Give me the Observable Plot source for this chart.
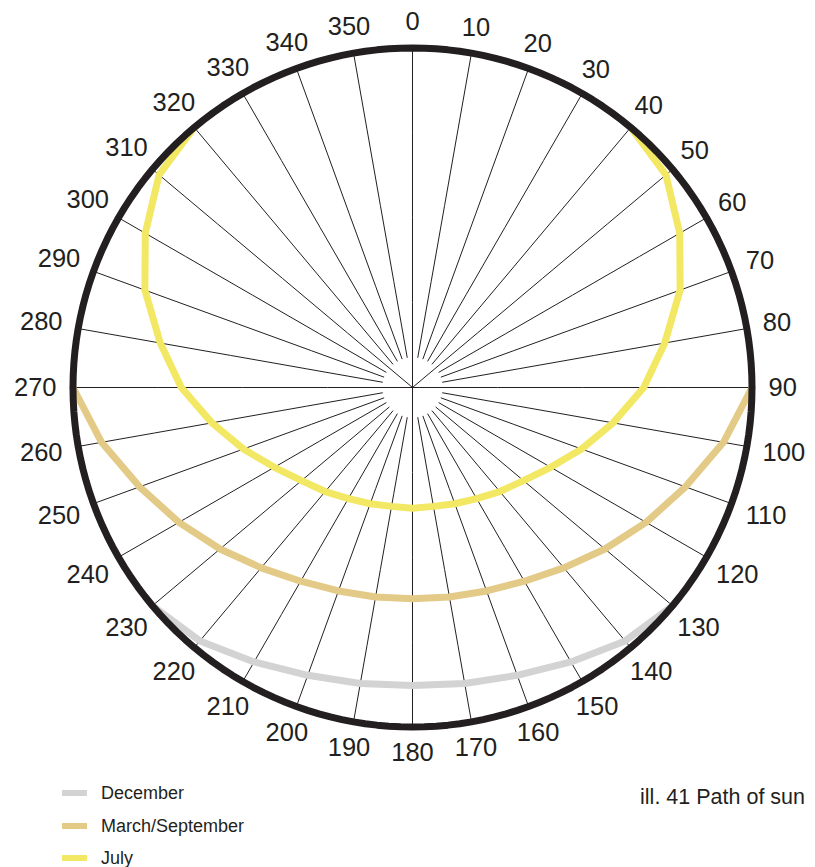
<!DOCTYPE html>
<html>
<head>
<meta charset="utf-8">
<script src="https://cdn.jsdelivr.net/npm/d3@7"></script>
<script src="https://cdn.jsdelivr.net/npm/@observablehq/plot@0.6"></script>
<style>
  html, body { margin: 0; padding: 0; background: #fff; }
  #wrap { position: relative; width: 815px; height: 867px; font-family: "Liberation Sans", Arial, sans-serif; color: #231f20; }
  #chart { position: absolute; left: 0; top: 0; }
  .row { position: absolute; left: 62px; height: 20px; display: flex; align-items: center; font-size: 18px; }
  .sw { width: 25px; height: 6px; margin-right: 14px; }
  #caption { position: absolute; right: 10px; top: 785px; font-size: 21.5px; }
</style>
</head>
<body>
<div id="wrap">
  <div id="chart"></div>
  <div id="legend"></div>
  <div id="caption">ill. 41 Path of sun</div>
</div>
<script>
// Compass tick labels (degrees of azimuth, 0 = north, clockwise)
const azimuthTicks = [0,10,20,30,40,50,60,70,80,90,100,110,120,130,140,150,160,170,180,
                      190,200,210,220,230,240,250,260,270,280,290,300,310,320,330,340,350];
// Spokes drawn all the way to the centre
const fullSpokes = [0, 50, 90, 180, 270, 310];

// Sun path: azimuth (deg) and altitude (deg)
const julyAzimuth  = [40,50,60,70,80,90,100,110,120,130,140,150,160,170,180,190,200,210,220,230,240,250,260,270,280,290,300,310,320];
const julyAltitude = [0,2.3,8.2,14.5,22.1,28.7,36,42.3,47.7,51.6,54,56,57.2,58,58,58,57.2,56,54,51.6,47.7,42.3,36,28.7,22.1,14.5,8.2,2.3,0];

const equinoxAzimuth  = [90,100,110,120,130,140,150,160,170,180,190,200,210,220,230,240,250,260,270];
const equinoxAltitude = [0,6.3,13,18.5,23.4,27.6,30.7,32.6,33.6,34,33.6,32.6,30.7,27.6,23.4,18.5,13,6.3,0];

const decemberAzimuth  = [130,140,150,160,170,180,190,200,210,220,230];
const decemberAltitude = [0,2.3,6,8.8,10.3,11,10.3,8.8,6,2.3,0];

const seriesNames  = ["December", "March/September", "July"];
const seriesColors = ["#d3d3d3", "#e3ca87", "#f2e864"];

const toRows = (az, alt) => az.map((a, i) => ({az: a, alt: alt[i]}));
const paths = [
  toRows(decemberAzimuth, decemberAltitude),
  toRows(equinoxAzimuth, equinoxAltitude),
  toRows(julyAzimuth, julyAltitude)
];

const lon = az => 180 - az;   // azimuth -> longitude on a north-pole azimuthal projection
const ink = "#231f20";
const horizon = d3.geoCircle().center([0, 90]).radius(90)();

const spokes = azimuthTicks.map(a => ({az: a, inner: fullSpokes.includes(a) ? 90 : 82}));

// label layout: keep each label's box just outside the ring
const labelSize = 25.5;
const pxPerDeg = 339.5 / 90;
const labelLat = d => {
  const w = String(d).length * 0.556 * labelSize;
  const h = 0.72 * labelSize;
  const a = d * Math.PI / 180;
  const r = 356 + Math.hypot(Math.sin(a) * w / 2, Math.cos(a) * h / 2);
  return 90 - r / pxPerDeg;
};

const chart = Plot.plot({
  width: 815,
  height: 772,
  marginTop: 47.5,
  marginLeft: 72.5,
  marginRight: 63.5,
  marginBottom: 45.5,
  style: {fontFamily: "'Liberation Sans', Arial, sans-serif", background: "#fff", overflow: "visible"},
  projection: {type: "azimuthal-equidistant", rotate: [0, -90], domain: horizon, clip: false},
  marks: [
    Plot.link(spokes, {x1: d => lon(d.az), y1: d => d.inner, x2: d => lon(d.az), y2: 0, stroke: ink, strokeWidth: 1}),
    ...paths.map((rows, i) => Plot.line(rows, {
      x: d => lon(d.az), y: "alt", curve: "linear",
      stroke: seriesColors[i], strokeWidth: 7, strokeLinejoin: "miter"
    })),
    Plot.geo(horizon, {stroke: ink, strokeWidth: 7, fill: "none"}),
    Plot.text(azimuthTicks, {x: d => lon(d), y: labelLat, text: d => String(d), fontSize: labelSize, fill: ink})
  ]
});
document.getElementById("chart").appendChild(chart);

const legend = document.getElementById("legend");
const legendTops = [783, 816, 848];
seriesNames.forEach((name, i) => {
  const row = document.createElement("div");
  row.className = "row";
  row.style.top = legendTops[i] + "px";
  const sw = document.createElement("div");
  sw.className = "sw";
  sw.style.background = seriesColors[i];
  const t = document.createElement("span");
  t.textContent = name;
  row.appendChild(sw);
  row.appendChild(t);
  legend.appendChild(row);
});
</script>
</body>
</html>
